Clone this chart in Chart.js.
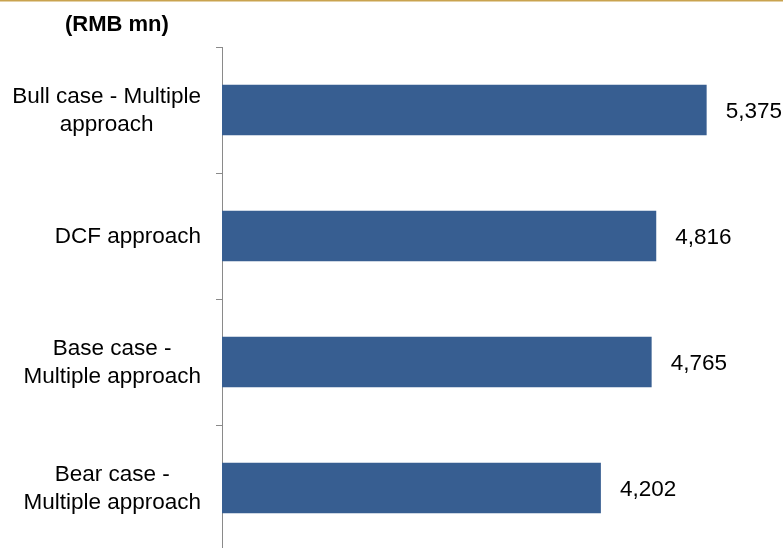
<!DOCTYPE html>
<html>
<head>
<meta charset="utf-8">
<script src="https://cdn.jsdelivr.net/npm/chart.js@4/dist/chart.umd.min.js"></script>
<style>
  html, body { margin: 0; padding: 0; overflow: hidden; background: #ffffff; }
  canvas { display: block; }
</style>
</head>
<body>
<canvas id="c" width="783" height="556"></canvas>
<script>
const categories = [
  ["Bull case - Multiple", "approach"],
  ["DCF approach"],
  ["Base case -", "Multiple approach"],
  ["Bear case -", "Multiple approach"]
];
const values = [5375, 4816, 4765, 4202];
const unitLabel = "(RMB mn)";
const axisMax = 6000;

const FONT = '"Liberation Sans", Arial, sans-serif';

const decorPlugin = {
  id: 'decor',
  beforeDraw(chart) {
    const ctx = chart.ctx;
    ctx.save();
    ctx.fillStyle = '#C9A34F';
    ctx.fillRect(0, 0, chart.width, 1.5);
    ctx.fillStyle = '#000000';
    ctx.font = 'bold 22px ' + FONT;
    ctx.textAlign = 'left';
    ctx.textBaseline = 'alphabetic';
    ctx.fillText(unitLabel, 65, 31);
    ctx.restore();
  },
  afterDatasetsDraw(chart) {
    const ctx = chart.ctx;
    const yScale = chart.scales.y;
    const meta = chart.getDatasetMeta(0);
    ctx.save();
    ctx.fillStyle = '#000000';
    ctx.font = '22.5px ' + FONT;
    ctx.textBaseline = 'middle';
    // category labels
    ctx.textAlign = 'center';
    const lineH = 28;
    categories.forEach((lines, i) => {
      const cy = yScale.getPixelForValue(i) + 1;
      let widest = 0;
      lines.forEach(l => { widest = Math.max(widest, ctx.measureText(l).width); });
      const cx = 201 - widest / 2;
      lines.forEach((l, j) => {
        ctx.fillText(l, cx, cy + (j - (lines.length - 1) / 2) * lineH);
      });
    });
    // value labels
    ctx.textAlign = 'left';
    meta.data.forEach((bar, i) => {
      ctx.fillText(values[i].toLocaleString('en-US'), bar.x + 19, bar.y + 2);
    });
    ctx.restore();
  }
};

new Chart(document.getElementById('c'), {
  type: 'bar',
  data: {
    labels: categories,
    datasets: [{
      data: values,
      backgroundColor: '#375E91',
      borderWidth: 0,
      barPercentage: 0.4,
      categoryPercentage: 1.0
    }]
  },
  options: {
    indexAxis: 'y',
    responsive: false,
    animation: false,
    layout: { padding: { top: 47, bottom: 5, left: 0, right: 20 } },
    plugins: {
      legend: { display: false },
      tooltip: { enabled: false },
      title: { display: false }
    },
    scales: {
      x: {
        display: false,
        min: 0,
        max: axisMax
      },
      y: {
        offset: true,
        afterFit(scale) { scale.width = 222; },
        grid: {
          display: true,
          offset: true,
          drawOnChartArea: false,
          drawTicks: true,
          tickLength: 6,
          color: '#8A8A8A',
          lineWidth: 1
        },
        border: { display: true, color: '#8A8A8A', width: 1 },
        ticks: { display: false }
      }
    }
  },
  plugins: [decorPlugin]
});
</script>
</body>
</html>
